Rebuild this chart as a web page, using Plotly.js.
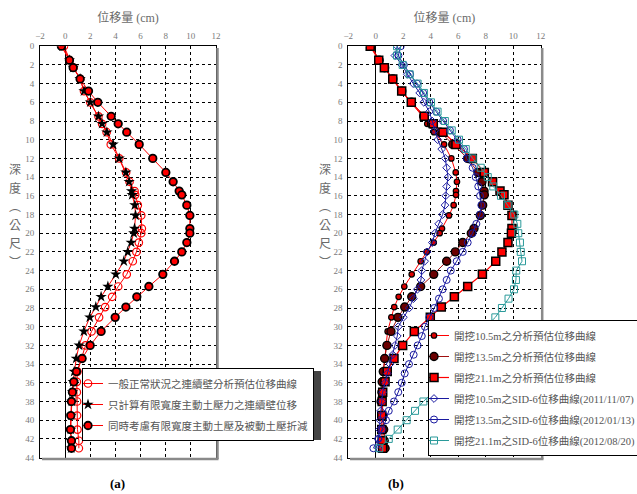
<!DOCTYPE html>
<html>
<head>
<meta charset="utf-8">
<script src="https://cdn.plot.ly/plotly-3.0.1.min.js"></script>
<style>html,body{margin:0;padding:0;background:#fff;}#chart{width:637px;height:494px;}</style>
</head>
<body>
<div id="chart"></div>
<script>
// ---------- DATA ----------
// model node depths (m) used by all analysis curves
const depthModel = [0, 1.5, 2.3, 3.5, 4.8, 6.0, 7.5, 8.3, 9.2, 10.5, 12.0, 13.5, 14.5, 15.5, 15.9, 17.0, 18.1, 19.5, 20.0, 21.0, 22.0, 23.0, 24.4, 25.7, 26.8, 27.9, 29.0, 30.5, 32.0, 33.4, 34.8, 35.9, 37.0, 38.0, 39.5, 41.0, 42.2, 43.0];
// inclinometer depths (m)
const depthSID = [0,1,2,3,4,5,6,7,8,9,10,11,12,13,14,15,16,17,18,19,20,21,22,23,24,25,26,27,28,29,30,31,32,33,34,35,36,37,38,39,40,41,42,43];

// (a) left panel (cm)
const namesA = ['一般正常狀況之連續壁分析預估位移曲線', '只計算有限寬度主動土壓力之連續壁位移', '同時考慮有限寬度主動土壓及被動土壓折減'];
const dispNormal = [-0.1, 0.36, 0.66, 1.2, 1.5, 2.0, 2.65, 2.94, 3.3, 3.63, 4.3, 4.85, 5.12, 5.52, 5.57, 5.78, 6.05, 6.1, 6.05, 5.86, 5.67, 5.38, 4.9, 4.22, 3.74, 3.18, 2.7, 2.1, 1.62, 1.33, 0.98, 0.93, 0.93, 0.95, 0.95, 0.98, 1.09, 1.09];
const dispActive = [-0.2, 0.34, 0.64, 1.19, 1.5, 2.0, 2.65, 2.94, 3.32, 3.82, 4.3, 4.83, 5.09, 5.28, 5.33, 5.54, 5.6, 5.52, 5.46, 5.25, 4.98, 4.67, 4.03, 3.4, 2.86, 2.44, 1.96, 1.49, 1.11, 0.88, 0.72, 0.64, 0.58, 0.53, 0.48, 0.45, 0.48, 0.48];
const dispBoth = [-0.3, 0.34, 0.64, 1.19, 1.86, 2.6, 3.66, 4.22, 4.9, 5.89, 6.97, 8.01, 8.59, 9.07, 9.28, 9.68, 9.92, 9.92, 9.92, 9.68, 9.28, 8.7, 7.77, 6.66, 5.7, 4.83, 3.98, 2.86, 1.99, 1.35, 0.9, 0.69, 0.58, 0.5, 0.45, 0.42, 0.5, 0.5];

// (b) right panel (cm)
const namesB = ['開挖10.5m之分析預估位移曲線', '開挖13.5m之分析預估位移曲線', '開挖21.1m之分析預估位移曲線', '開挖10.5m之SID-6位移曲線(2011/11/07)', '開挖13.5m之SID-6位移曲線(2012/01/13)', '開挖21.1m之SID-6位移曲線(2012/08/20)'];
const pred105 = [-0.3, 0.25, 0.62, 1.2, 1.85, 2.55, 3.4, 3.75, 4.24, 4.97, 5.5, 5.82, 5.91, 5.84, 5.84, 5.67, 5.33, 4.82, 4.65, 4.22, 3.71, 3.27, 2.62, 2.08, 1.67, 1.35, 1.14, 0.87, 0.75, 0.68, 0.55, 0.5, 0.48, 0.48, 0.55, 0.6, 0.65, 0.75];
const pred135 = [-0.35, 0.25, 0.65, 1.25, 1.9, 2.6, 3.5, 4.05, 4.7, 5.6, 6.69, 7.44, 7.73, 7.88, 7.9, 7.78, 7.61, 7.15, 6.95, 6.33, 5.79, 5.16, 4.22, 3.27, 2.62, 2.11, 1.62, 1.11, 0.82, 0.65, 0.55, 0.47, 0.45, 0.39, 0.51, 0.58, 0.62, 0.68];
const pred211 = [-0.4, 0.22, 0.63, 1.24, 1.89, 2.59, 3.53, 4.19, 4.89, 5.84, 7.03, 7.9, 8.5, 9.04, 9.33, 9.62, 9.91, 9.91, 9.87, 9.62, 9.18, 8.73, 7.76, 6.69, 5.72, 4.77, 3.97, 2.81, 1.96, 1.33, 0.84, 0.68, 0.51, 0.47, 0.44, 0.44, 0.47, 0.5];
const sid105 = [1.57, 1.4, 1.9, 2.3, 2.73, 3.2, 3.5, 3.9, 4.1, 4.3, 4.51, 4.8, 5.06, 5.16, 5.26, 5.16, 5.09, 5.04, 4.87, 4.58, 4.31, 4.12, 3.73, 3.56, 3.35, 3.29, 3.03, 2.74, 2.44, 2.01, 1.64, 1.57, 1.4, 1.24, 1.04, 0.84, 0.7, 0.51, 0.44, 0.36, 0.31, 0.27, 0.19, 0.19];
const sid135 = [1.82, 1.65, 2.05, 2.5, 3.0, 3.45, 3.9, 4.4, 4.9, 5.4, 5.96, 6.42, 6.62, 7.05, 7.27, 7.46, 7.59, 7.68, 7.59, 7.32, 7.05, 6.69, 6.33, 5.89, 5.46, 5.16, 4.87, 4.6, 4.26, 3.9, 3.58, 3.35, 3.05, 2.76, 2.42, 2.11, 1.89, 1.64, 1.33, 0.95, 0.75, 0.45, 0.19, -0.17];
const sid211 = [1.55, 1.55, 1.96, 2.47, 3.05, 3.51, 4.02, 4.5, 5.03, 5.53, 6.06, 6.55, 7.05, 7.64, 8.15, 8.55, 9.11, 9.6, 10.08, 10.3, 10.37, 10.49, 10.55, 10.64, 10.22, 10.2, 10.06, 9.66, 9.18, 8.7, 8.0, 7.3, 6.7, 6.1, 5.5, 5.0, 4.56, 4.16, 3.47, 2.86, 2.25, 1.6, 0.95, 0.26];

const xTitle = '位移量 (cm)';
const yTitleChars = ['深', '度', '︵', '公', '尺', '︶'];
const panelLabels = ['(a)', '(b)'];

// ---------- HELPERS ----------
const W = 637, H = 494;
const px = x => x / W;
const py = y => 1 - y / H;
const serif = 'Liberation Serif, "Noto Sans CJK TC", serif';

// ---------- TRACES ----------
function tr(x, y, name, ax, leg, grp, line, marker) {
  return {x: x, y: y, name: name, xaxis: 'x' + ax, yaxis: 'y' + ax, legend: leg, legendgroup: grp,
    mode: 'lines+markers', line: line, marker: marker};
}
const traces = [
  tr(dispNormal, depthModel, namesA[0], '', 'legend', 'a1', {color: '#ff0000', width: 1},
     {symbol: 'circle-open', size: 7.5, color: '#ff0000', line: {width: 1.2}}),
  tr(dispActive, depthModel, namesA[1], '', 'legend', 'a2', {color: '#ff0000', width: 1},
     {symbol: 'star', size: 8.5, color: '#000000', line: {width: 0}}),
  tr(dispBoth, depthModel, namesA[2], '', 'legend', 'a3', {color: '#ff0000', width: 1},
     {symbol: 'circle', size: 7.5, color: '#ff0000', line: {color: '#000000', width: 1.8}}),

  tr(pred105, depthModel, namesB[0], '2', 'legend2', 'b1', {color: '#ff0000', width: 1},
     {symbol: 'circle', size: 5.5, color: '#dd0000', line: {color: '#000000', width: 1.2}}),
  tr(pred135, depthModel, namesB[1], '2', 'legend2', 'b2', {color: '#a01010', width: 1},
     {symbol: 'circle', size: 8, color: '#6b0000', line: {color: '#000000', width: 1.4}}),
  tr(pred211, depthModel, namesB[2], '2', 'legend2', 'b3', {color: '#ff0000', width: 1.2},
     {symbol: 'square', size: 8, color: '#ff0000', line: {color: '#000000', width: 1.5}}),
  tr(sid105, depthSID, namesB[3], '2', 'legend2', 'b4', {color: '#1a1aa0', width: 1},
     {symbol: 'diamond-open', size: 6, color: '#1a1aa0', line: {width: 1}}),
  tr(sid135, depthSID, namesB[4], '2', 'legend2', 'b5', {color: '#1a1aa0', width: 1},
     {symbol: 'circle-open', size: 7, color: '#1a1aa0', line: {width: 1}}),
  tr(sid211, depthSID, namesB[5], '2', 'legend2', 'b6', {color: '#2a9a9a', width: 1},
     {symbol: 'square-open', size: 7, color: '#2a9a9a', line: {width: 1}})
];

// ---------- LAYOUT ----------
const tickFont = {family: serif, size: 9, color: '#7a7a7a'};
function xAxis(domain, anchor) {
  return {domain: domain, anchor: anchor, range: [-2, 12], tick0: 0, dtick: 2, side: 'top',
    showgrid: true, gridcolor: '#000', griddash: 'dot', gridwidth: 1,
    zeroline: true, zerolinecolor: '#000', zerolinewidth: 1,
    showline: true, mirror: true, linecolor: '#000', linewidth: 1,
    ticks: '', ticklabelstandoff: 3, tickfont: tickFont,
    title: {text: xTitle, font: {family: serif, size: 12, color: '#6a6a6a'}, standoff: 5}};
}
function yAxis(domain, anchor) {
  return {domain: domain, anchor: anchor, range: [44, 0], tick0: 0, dtick: 2,
    showgrid: true, gridcolor: '#000', griddash: 'dot', gridwidth: 1, zeroline: false,
    showline: true, mirror: true, linecolor: '#000', linewidth: 1,
    ticks: '', ticklabelstandoff: 3, tickfont: tickFont};
}
const yDom = [py(457.6), py(46.2)];
const xDomA = [px(40), px(216)];
const xDomB = [px(348.2), px(540.7)];

const annotations = [];
[13, 323].forEach(xc => {
  yTitleChars.forEach((ch, i) => {
    annotations.push({xref: 'paper', yref: 'paper', x: px(xc + 2), y: py(170 + i * 18.5), text: ch, showarrow: false,
      xanchor: 'center', yanchor: 'middle', font: {family: serif, size: 12, color: '#6a6a6a'}});
  });
});
annotations.push({xref: 'paper', yref: 'paper', x: px(117), y: py(483), text: '<b>' + panelLabels[0] + '</b>', showarrow: false,
  xanchor: 'center', yanchor: 'middle', font: {family: serif, size: 13, color: '#000'}});
annotations.push({xref: 'paper', yref: 'paper', x: px(396), y: py(483), text: '<b>' + panelLabels[1] + '</b>', showarrow: false,
  xanchor: 'center', yanchor: 'middle', font: {family: serif, size: 13, color: '#000'}});

const shadow = '#8a8a8a';
const shapes = [
  // frame shadows (right and bottom) of both panels
  {type: 'line', xref: 'paper', yref: 'paper', x0: px(217.5), x1: px(217.5), y0: py(48), y1: py(459), line: {color: shadow, width: 2.5}},
  {type: 'line', xref: 'paper', yref: 'paper', x0: px(42), x1: px(218.5), y0: py(459), y1: py(459), line: {color: shadow, width: 2.5}},
  {type: 'line', xref: 'paper', yref: 'paper', x0: px(542.2), x1: px(542.2), y0: py(48), y1: py(459), line: {color: shadow, width: 2.5}},
  {type: 'line', xref: 'paper', yref: 'paper', x0: px(350), x1: px(543.5), y0: py(459), y1: py(459), line: {color: shadow, width: 2.5}},
  // legend drop shadows
  {type: 'rect', xref: 'paper', yref: 'paper', layer: 'above', x0: px(85), x1: px(321), y0: py(440), y1: py(371),
   fillcolor: '#444', line: {width: 0}},
  {type: 'rect', xref: 'paper', yref: 'paper', layer: 'above', x0: px(431), x1: px(640), y0: py(455), y1: py(323),
   fillcolor: '#444', line: {width: 0}}
];

const legendFont = {family: serif, size: 10.5, color: '#555555'};
const layout = {
  width: W, height: H, margin: {l: 0, r: 0, t: 0, b: 0, autoexpand: false},
  paper_bgcolor: '#fff', plot_bgcolor: '#fff', showlegend: true,
  xaxis: xAxis(xDomA, 'y'), yaxis: yAxis(yDom, 'x'),
  xaxis2: xAxis(xDomB, 'y2'), yaxis2: yAxis(yDom, 'x2'),
  legend: {x: px(82), y: py(368), xanchor: 'left', yanchor: 'top', bgcolor: '#fff', bordercolor: '#000', borderwidth: 1,
    font: legendFont, tracegroupgap: 2, indentation: -15},
  legend2: {x: px(428), y: py(320), xanchor: 'left', yanchor: 'top', bgcolor: '#fff', bordercolor: '#000', borderwidth: 1,
    font: legendFont, tracegroupgap: 2, indentation: -15},
  annotations: annotations, shapes: shapes
};

Plotly.newPlot('chart', traces, layout, {displayModeBar: false, staticPlot: true});
</script>
</body>
</html>
